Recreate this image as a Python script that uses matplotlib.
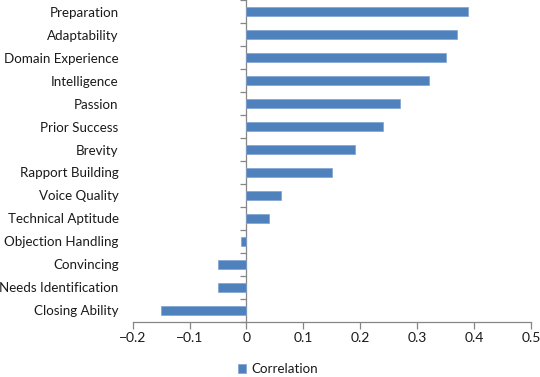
import matplotlib
matplotlib.use("Agg")
import matplotlib.pyplot as plt
import numpy as np

plt.rcParams['font.family'] = ['Lato', 'DejaVu Sans']

categories = ["Preparation", "Adaptability", "Domain Experience", "Intelligence",
              "Passion", "Prior Success", "Brevity", "Rapport Building",
              "Voice Quality", "Technical Aptitude", "Objection Handling",
              "Convincing", "Needs Identification", "Closing Ability"]
values = [0.39, 0.37, 0.35, 0.32, 0.27, 0.24, 0.19, 0.15, 0.06, 0.04,
          -0.01, -0.05, -0.05, -0.15]
xticks = [-0.2, -0.1, 0, 0.1, 0.2, 0.3, 0.4, 0.5]
xticklabels = ["\u22120.2", "\u22120.1", "0", "0.1", "0.2", "0.3", "0.4", "0.5"]
series_name = "Correlation"

bar_color = "#4F81BD"
axis_color = "#868686"
text_color = "#1a1a1a"

fig = plt.figure(figsize=(5.40, 3.77), dpi=100)
ax = fig.add_axes([132.6/540, 1 - 321.6/377, (531 - 132.6)/540, 321.6/377 - 0.001])

y = np.arange(len(categories))
ax.barh(y, values, height=0.4, color=bar_color, edgecolor="#7FA3D0", linewidth=0.5,
        label=series_name, zorder=3)

ax.set_xlim(xticks[0], xticks[-1])
ax.set_ylim(len(categories) - 0.5, -0.5)

ax.set_xticks(xticks)
ax.set_xticklabels(xticklabels)
ax.set_yticks(y)
ax.set_yticklabels(categories)

for s in ["top", "right", "left"]:
    ax.spines[s].set_visible(False)
ax.spines["bottom"].set_color(axis_color)
ax.spines["bottom"].set_linewidth(0.9)

ax.tick_params(axis="x", direction="out", length=5, width=0.9, color=axis_color,
               labelsize=10, labelcolor=text_color, pad=2.5)
ax.tick_params(axis="y", length=0, labelsize=9.6, labelcolor=text_color, pad=10)

# vertical category axis at x = 0
zero_frac = (0 - xticks[0]) / (xticks[-1] - xticks[0])
sec = ax.secondary_yaxis(zero_frac)
sec.set_yticks(np.arange(len(categories) + 1) - 0.5)
sec.tick_params(axis="y", direction="out", length=4, width=0.9, color=axis_color,
                labelleft=False)
sec.spines["left"].set_color(axis_color)
sec.spines["left"].set_linewidth(0.9)

handles, labels = ax.get_legend_handles_labels()
fig.legend(handles, labels, loc="lower center", bbox_to_anchor=(0.515, 0.0),
           frameon=False, fontsize=9.6, handlelength=0.6, handleheight=0.6,
           handletextpad=0.4, labelcolor=text_color, borderpad=0.15,
           borderaxespad=0)

fig.savefig("out.png", dpi=100)
